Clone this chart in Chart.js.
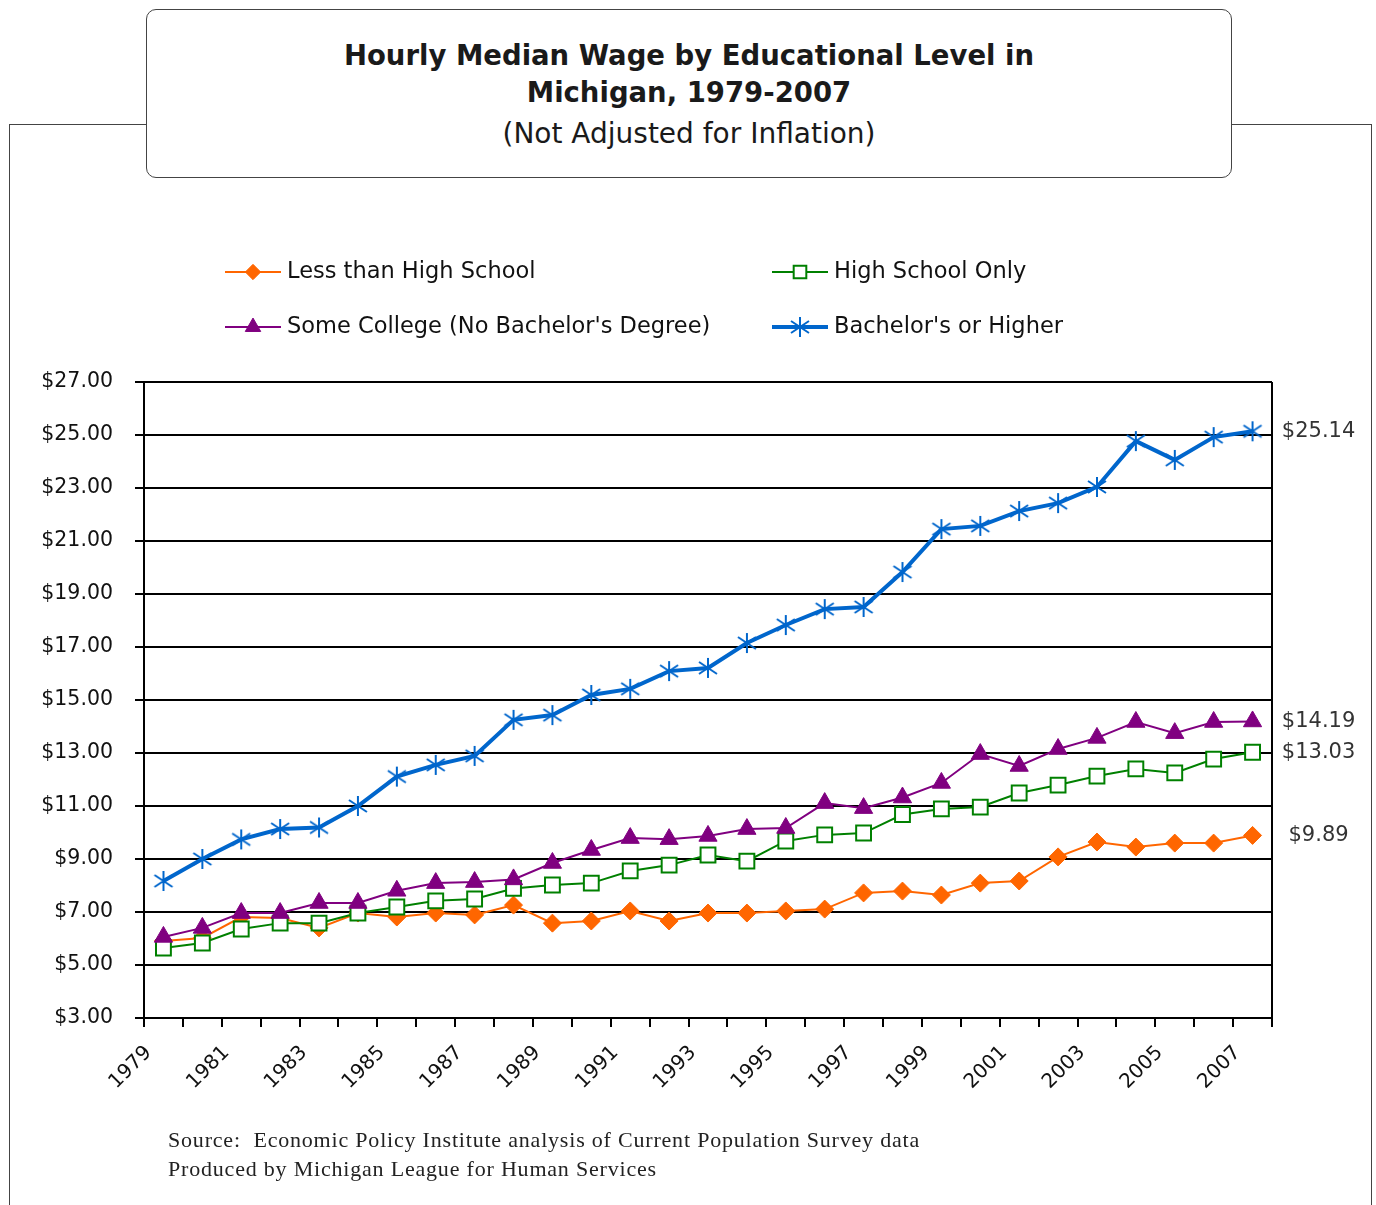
<!DOCTYPE html>
<html>
<head>
<meta charset="utf-8">
<title>Hourly Median Wage by Educational Level in Michigan</title>
<script src="https://cdn.jsdelivr.net/npm/chart.js@4.4.1/dist/chart.umd.min.js"></script>
<style>
  body { margin: 0; background: #fff; }
  #wrap { position: relative; width: 1376px; height: 1205px; overflow: hidden; font-family: 'DejaVu Sans', sans-serif; }
  #frame { position: absolute; left: 9px; top: 124px; width: 1361px; height: 1200px; border: 1px solid #444; }
  #titleBox { position: absolute; left: 146px; top: 9px; width: 1084px; height: 167px; border: 1px solid #444;
              border-radius: 10px; background: #fff; text-align: center; color: #1a1a1a; z-index: 1; }
  #titleBox .main { margin-top: 27px; font-size: 27.5px; font-weight: bold; line-height: 37px; }
  #titleBox .sub { font-size: 28px; line-height: 46px; }
  #chart { position: absolute; left: 0; top: 0; z-index: 2; }
  #source { position: absolute; left: 168px; top: 1125px; font-family: 'Liberation Serif', serif; font-size: 22px;
            letter-spacing: 0.8px; line-height: 29px; color: #222; z-index: 3; }
</style>
</head>
<body>
<div id="wrap">
  <div id="frame"></div>
  <div id="titleBox">
    <div class="main">Hourly Median Wage by Educational Level in<br>Michigan, 1979-2007</div>
    <div class="sub">(Not Adjusted for Inflation)</div>
  </div>
  <canvas id="chart" width="1376" height="1205"></canvas>
  <div id="source">Source:&nbsp; Economic Policy Institute analysis of Current Population Survey data<br>Produced by Michigan League for Human Services</div>
</div>
<script>
// ── Data ──────────────────────────────────────────────
const YEARS = ['1979','1980','1981','1982','1983','1984','1985','1986','1987','1988',
  '1989','1990','1991','1992','1993','1994','1995','1996','1997','1998',
  '1999','2000','2001','2002','2003','2004','2005','2006','2007'];
const SHOWN_YEARS = ['1979','1981','1983','1985','1987','1989','1991','1993','1995',
  '1997','1999','2001','2003','2005','2007'];

const lessThanHS = [5.91, 6.02, 6.81, 6.77, 6.40, 6.96, 6.81, 6.96, 6.89, 7.26,
  6.58, 6.66, 7.04, 6.66, 6.96, 6.96, 7.04, 7.11, 7.72, 7.79,
  7.64, 8.09, 8.17, 9.08, 9.64, 9.45, 9.60, 9.60, 9.89];
const highSchoolOnly = [5.64, 5.83, 6.36, 6.58, 6.58, 6.96, 7.19, 7.42, 7.49, 7.89,
  8.02, 8.09, 8.55, 8.77, 9.15, 8.92, 9.68, 9.91, 9.98, 10.68,
  10.89, 10.96, 11.49, 11.79, 12.13, 12.40, 12.25, 12.77, 13.03];
const someCollege = [6.06, 6.40, 6.96, 6.96, 7.34, 7.34, 7.80, 8.09, 8.13, 8.23,
  8.85, 9.34, 9.79, 9.75, 9.87, 10.13, 10.17, 11.11, 10.92, 11.32,
  11.87, 12.96, 12.51, 13.15, 13.57, 14.17, 13.75, 14.17, 14.19];
const bachelorsPlus = [8.17, 9.00, 9.74, 10.13, 10.19, 11.00, 12.11, 12.55, 12.89, 14.25,
  14.43, 15.19, 15.42, 16.09, 16.21, 17.15, 17.83, 18.43, 18.51, 19.83,
  21.45, 21.57, 22.13, 22.43, 23.04, 24.77, 24.06, 24.92, 25.14];

const Y_MIN = 3, Y_MAX = 27, Y_STEP = 2;
const FONT = "'DejaVu Sans', sans-serif";

// ── Star marker (vertical bar + X, like the Excel star) ──
function makeStar(color) {
  const c = document.createElement('canvas');
  c.width = 22; c.height = 22;
  const g = c.getContext('2d');
  g.strokeStyle = color;
  g.lineWidth = 2;
  g.beginPath();
  g.moveTo(11, 1); g.lineTo(11, 21);
  g.moveTo(2, 5); g.lineTo(20, 17);
  g.moveTo(2, 17); g.lineTo(20, 5);
  g.stroke();
  return c;
}

// ── Plugins ───────────────────────────────────────────
const plotBorder = {
  id: 'plotBorder',
  beforeDatasetsDraw(chart) {
    const { ctx, chartArea: a } = chart;
    ctx.save();
    ctx.strokeStyle = '#000';
    ctx.lineWidth = 2;
    ctx.beginPath();
    ctx.moveTo(a.right, a.top);
    ctx.lineTo(a.right, a.bottom + 9);
    ctx.stroke();
    ctx.restore();
  }
};

const endLabels = {
  id: 'endLabels',
  afterDatasetsDraw(chart) {
    const { ctx } = chart;
    ctx.save();
    ctx.font = `21px ${FONT}`;
    ctx.fillStyle = '#333';
    ctx.textAlign = 'center';
    ctx.textBaseline = 'middle';
    chart.data.datasets.forEach((ds, i) => {
      const pts = chart.getDatasetMeta(i).data;
      const p = pts[pts.length - 1];
      const v = ds.data[ds.data.length - 1];
      ctx.fillText('$' + v.toFixed(2), p.x + 66, p.y);
    });
    ctx.restore();
  }
};

const sideLegend = {
  id: 'sideLegend',
  afterDraw(chart) {
    const { ctx, chartArea: a } = chart;
    const slots = [
      [a.left + 81, a.top - 110], [a.left + 628, a.top - 110],
      [a.left + 81, a.top - 55], [a.left + 628, a.top - 55]
    ];
    ctx.save();
    chart.data.datasets.forEach((ds, k) => {
      const [x, y] = slots[k];
      ctx.strokeStyle = ds.borderColor;
      ctx.lineWidth = ds.borderWidth;
      ctx.beginPath();
      ctx.moveTo(x, y);
      ctx.lineTo(x + 56, y);
      ctx.stroke();
      ctx.fillStyle = ds.pointBackgroundColor;
      ctx.strokeStyle = ds.pointBorderColor;
      ctx.lineWidth = ds.pointBorderWidth;
      Chart.helpers.drawPoint(ctx, {
        pointStyle: ds.pointStyle, radius: ds.pointRadius * 0.85, rotation: 0,
        borderWidth: ds.pointBorderWidth
      }, x + 28, y);
      ctx.fillStyle = '#111';
      ctx.font = `22.5px ${FONT}`;
      ctx.textAlign = 'left';
      ctx.textBaseline = 'middle';
      ctx.fillText(ds.label, x + 62, y);
    });
    ctx.restore();
  }
};

// ── Chart ─────────────────────────────────────────────
const ctx = document.getElementById('chart').getContext('2d');
new Chart(ctx, {
  type: 'line',
  data: {
    labels: YEARS,
    datasets: [
      {
        label: 'Less than High School',
        data: lessThanHS,
        borderColor: '#FF6600',
        borderWidth: 2,
        pointStyle: 'rectRot',
        pointRadius: 9,
        pointBackgroundColor: '#FF6600',
        pointBorderColor: '#FF6600',
        pointBorderWidth: 1,
        order: 3
      },
      {
        label: 'High School Only',
        data: highSchoolOnly,
        borderColor: '#008000',
        borderWidth: 2,
        pointStyle: 'rect',
        pointRadius: 10.5,
        pointBackgroundColor: '#FFFFFF',
        pointBorderColor: '#008000',
        pointBorderWidth: 2,
        order: 2
      },
      {
        label: "Some College (No Bachelor's Degree)",
        data: someCollege,
        borderColor: '#800080',
        borderWidth: 2,
        pointStyle: 'triangle',
        pointRadius: 10.5,
        pointBackgroundColor: '#800080',
        pointBorderColor: '#800080',
        pointBorderWidth: 1,
        order: 1
      },
      {
        label: "Bachelor's or Higher",
        data: bachelorsPlus,
        borderColor: '#0066CC',
        borderWidth: 4,
        pointStyle: makeStar('#0066CC'),
        pointRadius: 10,
        pointBackgroundColor: '#0066CC',
        pointBorderColor: '#0066CC',
        pointBorderWidth: 2,
        order: 0
      }
    ]
  },
  options: {
    responsive: false,
    animation: false,
    layout: { padding: { left: 0, top: 382, right: 104, bottom: 67 } },
    plugins: {
      legend: { display: false },
      title: { display: false },
      tooltip: { enabled: false }
    },
    scales: {
      x: {
        offset: true,
        afterFit: s => { s.height = 120; },
        grid: { offset: true, drawOnChartArea: false, drawTicks: true, tickLength: 9, color: '#000', lineWidth: 2 },
        border: { color: '#000', width: 2 },
        ticks: {
          autoSkip: false,
          maxRotation: 45,
          minRotation: 45,
          padding: 14,
          labelOffset: -15,
          color: '#111',
          font: { family: FONT, size: 20 },
          callback: function (val, i) {
            const y = YEARS[i];
            return SHOWN_YEARS.includes(y) ? y : '';
          }
        }
      },
      y: {
        min: Y_MIN,
        max: Y_MAX,
        afterFit: s => { s.width = 144; },
        grid: { color: '#000', lineWidth: 2, tickLength: 9 },
        border: { color: '#000', width: 2 },
        ticks: {
          stepSize: Y_STEP,
          padding: 22,
          color: '#111',
          font: { family: FONT, size: 20.5 },
          callback: v => '$' + v.toFixed(2)
        }
      }
    }
  },
  plugins: [plotBorder, endLabels, sideLegend]
});
</script>
</body>
</html>
